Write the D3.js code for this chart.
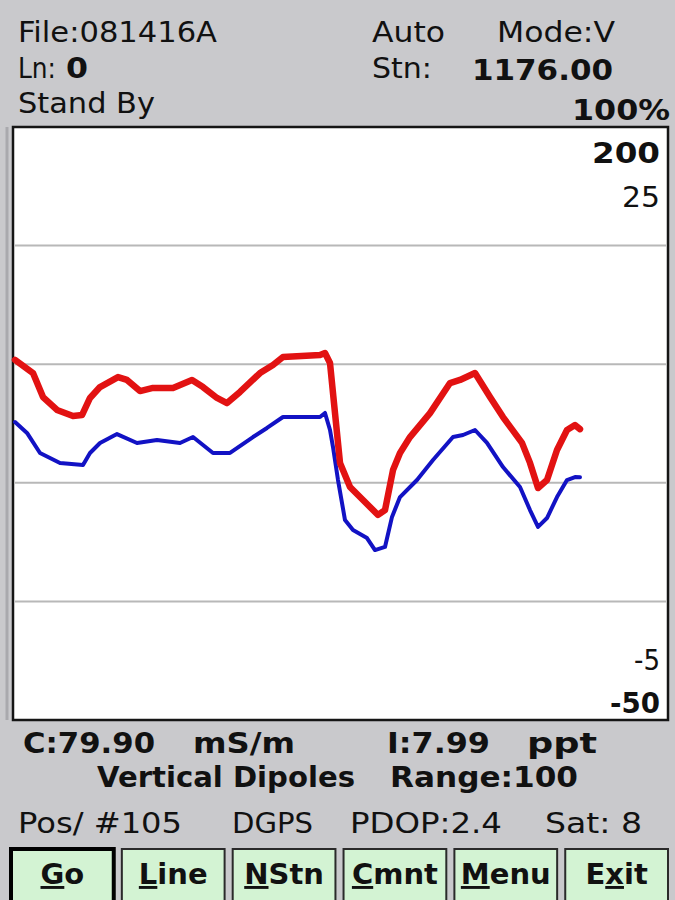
<!DOCTYPE html>
<html>
<head>
<meta charset="utf-8">
<script src="https://cdn.jsdelivr.net/npm/d3@7/dist/d3.min.js"></script>
<style>
  html, body { margin: 0; padding: 0; background: #c9c9cc; }
  svg { display: block; }
  text { font-family: "DejaVu Sans", "Liberation Sans", sans-serif; fill: #111; }
</style>
</head>
<body>
<svg id="screen" width="675" height="900"></svg>
<script>
// Conductivity trace (mS/m) by reading number
const cReadings = [0,3.6,5.6,8.4,11.6,13.4,15,17,20.6,22.4,25,27.6,31.6,35.4,37.6,40.4,42.4,45,49,51.6,53.6,61,62,63,64,65,67,69.6,72.6,74,75.6,77,79,83,87,89,92,95,97.6,101.4,103,104.6,106.4,108.4,110.4,112,113];
const cValues   = [111.0,105.1,94.3,88.5,85.8,86.2,93.9,98.8,103.3,102,97,98.4,98.4,102,98.8,93.9,91.6,96.6,105.1,108.7,112.3,113.2,114.1,109.6,87.1,64.7,53.9,48,41.3,43.5,61.5,69.2,76.3,87.1,100.6,102,105.1,94.3,85.3,73.7,64.7,53.4,57,70.5,79.5,81.7,79.9];

// In-phase trace (ppt) by reading number
const iReadings = [0,2.4,5,9,13.6,15,17,20.4,24.4,28.4,33,35.6,39.6,43,47.6,50.4,53.6,61,62,63,63.6,64.6,66,67.6,70.4,72,74,75.4,77,80.4,83.6,87.6,89.6,92,94.4,97.6,101,103,104.6,106.4,108.4,110.4,112,113];
const iValues   = [10.97,10.38,9.30,8.76,8.65,9.30,9.84,10.32,9.84,10.0,9.84,10.16,9.30,9.30,10.16,10.65,11.24,11.24,11.46,10.54,9.62,7.84,5.68,5.14,4.71,4.06,4.23,5.85,6.92,7.84,8.92,10.16,10.27,10.54,9.84,8.54,7.46,6.22,5.31,5.79,6.92,7.84,8.0,7.99];

// Scale ranges shown at the right edge of the plot
const cRange = [-50, 200];
const iRange = [-5, 25];
const cRangeLabels = ["200", "-50"];
const iRangeLabels = ["25", "-5"];

// Status lines
const headerRow1 = ["File:081416A", "Auto", "Mode:V"];
const stationText = "1176.00";
const lineNumber = "0";
const statusText = "Stand By";
const percentText = "100%";
const readoutRow = ["C:79.90", "mS/m", "I:7.99", "ppt"];
const modeRow = ["Vertical Dipoles", "Range:100"];
const gpsRow = ["Pos/ #105", "DGPS", "PDOP:2.4", "Sat: 8"];
const buttonLabels = ["Go", "Line", "NStn", "Cmnt", "Menu", "Exit"];
const buttonHotkeys = [0, 0, 0, 0, 0, 1];

const svg = d3.select("#screen");

function label(x, y, str, opt = {}) {
  const t = svg.append("text")
    .attr("x", x).attr("y", y)
    .attr("font-size", opt.size || 29)
    .attr("font-weight", opt.bold ? "bold" : "normal")
    .attr("text-anchor", opt.anchor || "start")
    .text(str);
  if (opt.width) t.attr("textLength", opt.width).attr("lengthAdjust", "spacingAndGlyphs");
  return t;
}

// Header
label(18, 42, headerRow1[0], { width: 199 });
label(372, 42, headerRow1[1], { width: 73 });
label(497, 42, headerRow1[2], { width: 118 });
label(18, 78, "Ln:", { width: 38 });
label(66, 78, lineNumber, { bold: true, width: 22 });
label(372, 78, "Stn:", { width: 60 });
label(472, 80, stationText, { bold: true, width: 141 });
label(18, 113, statusText, { width: 137 });
label(572, 120, percentText, { bold: true, width: 98 });

// Plot frame
const box = { left: 13, top: 127, right: 668, bottom: 720 };
svg.append("line")
  .attr("x1", 7).attr("x2", 7).attr("y1", box.top).attr("y2", box.bottom)
  .attr("stroke", "#a9a9ad").attr("stroke-width", 3);
svg.append("rect")
  .attr("x", box.left).attr("y", box.top)
  .attr("width", box.right - box.left).attr("height", box.bottom - box.top)
  .attr("fill", "#ffffff").attr("stroke", "#151515").attr("stroke-width", 2.5);

// Grid: five equal bands
const gridY = d3.scaleLinear().domain([0, 5]).range([box.top, box.bottom]);
svg.append("g").selectAll("line")
  .data(d3.range(1, 5))
  .join("line")
  .attr("x1", box.left + 2).attr("x2", box.right - 2)
  .attr("y1", d => gridY(d)).attr("y2", d => gridY(d))
  .attr("stroke", "#b8b8b8").attr("stroke-width", 2);

// Scales
const x = d3.scaleLinear().domain([0, 130]).range([15, 665]);
const plotYRange = [718, 162];
const yC = d3.scaleLinear().domain(cRange).range(plotYRange);
const yI = d3.scaleLinear().domain(iRange).range(plotYRange);

const cData = cReadings.map((r, k) => ({ r, v: cValues[k] }));
const iData = iReadings.map((r, k) => ({ r, v: iValues[k] }));

svg.append("path")
  .datum(iData)
  .attr("fill", "none")
  .attr("stroke", "#1212c4")
  .attr("stroke-width", 4)
  .attr("stroke-linejoin", "round")
  .attr("stroke-linecap", "round")
  .attr("d", d3.line().x(d => x(d.r)).y(d => yI(d.v)));

svg.append("path")
  .datum(cData)
  .attr("fill", "none")
  .attr("stroke", "#e21212")
  .attr("stroke-width", 6.5)
  .attr("stroke-linejoin", "round")
  .attr("stroke-linecap", "round")
  .attr("d", d3.line().x(d => x(d.r)).y(d => yC(d.v)));

// Range labels at right
label(660, 163, cRangeLabels[0], { bold: true, anchor: "end", width: 68 });
label(660, 207, iRangeLabels[0], { anchor: "end", width: 38 });
label(660, 670, iRangeLabels[1], { anchor: "end", width: 26 });
label(660, 713, cRangeLabels[1], { bold: true, anchor: "end", width: 50 });

// Readouts
label(23, 753, readoutRow[0], { bold: true, width: 132 });
label(193, 753, readoutRow[1], { bold: true, width: 102 });
label(387, 753, readoutRow[2], { bold: true, width: 103 });
label(527, 753, readoutRow[3], { bold: true, width: 70 });
label(97, 787, modeRow[0], { bold: true, width: 258 });
label(390, 787, modeRow[1], { bold: true, width: 188 });
label(18, 833, gpsRow[0], { width: 164 });
label(232, 833, gpsRow[1], { width: 81 });
label(350, 833, gpsRow[2], { width: 152 });
label(545, 833, gpsRow[3], { width: 97 });

// Soft-key buttons
const bx = d3.scaleBand().domain(buttonLabels).range([10, 669]).paddingInner(0.055);
const btn = svg.append("g").selectAll("g")
  .data(buttonLabels)
  .join("g");
btn.append("rect")
  .attr("x", d => bx(d) + 1)
  .attr("y", 849)
  .attr("width", bx.bandwidth() - 2)
  .attr("height", 56)
  .attr("fill", "#d3f3d3")
  .attr("stroke", (d, k) => k === 0 ? "#000" : "#2a2a2a")
  .attr("stroke-width", (d, k) => k === 0 ? 4 : 2);
btn.each(function (d, k) {
  const t = d3.select(this).append("text")
    .attr("x", bx(d) + bx.bandwidth() / 2)
    .attr("y", 884)
    .attr("font-size", 29)
    .attr("font-weight", "bold")
    .attr("text-anchor", "middle");
  const h = buttonHotkeys[k];
  if (h > 0) t.append("tspan").text(d.slice(0, h));
  t.append("tspan").style("text-decoration", "underline").text(d[h]);
  t.append("tspan").text(d.slice(h + 1));
});
</script>
</body>
</html>
